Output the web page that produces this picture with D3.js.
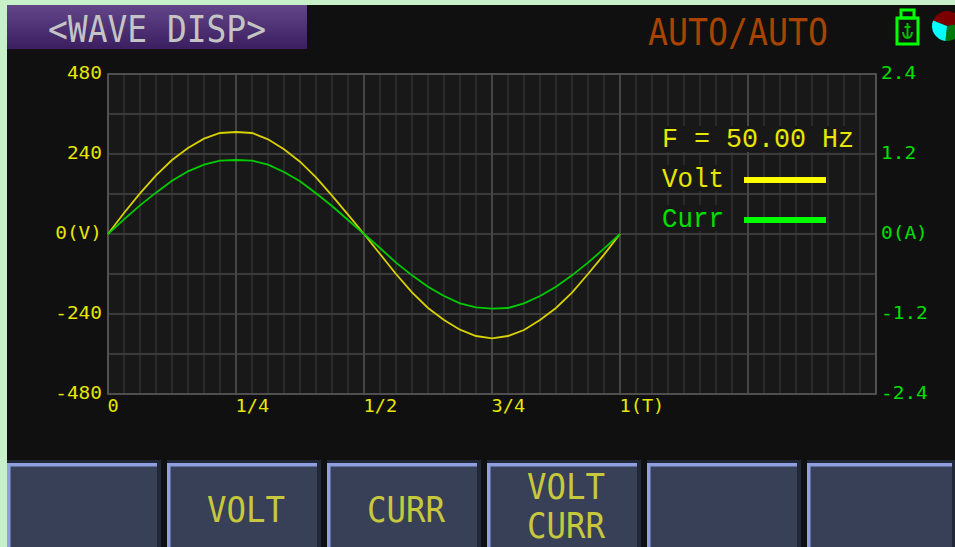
<!DOCTYPE html>
<html>
<head>
<meta charset="utf-8">
<script src="https://cdn.jsdelivr.net/npm/d3@7/dist/d3.min.js"></script>
<style>
html,body{margin:0;padding:0;background:#c8f0c8;overflow:hidden}
svg{display:block}
text{font-family:"DejaVu Sans Mono",monospace}
</style>
</head>
<body>
<svg id="chart" width="955" height="547"></svg>
<script>
// ---- data ----
const titleText = "<WAVE DISP>";
const rangeText = "AUTO/AUTO";
const freqText = "F = 50.00 Hz";
const legendNames = ["Volt", "Curr"];
const buttons = [[], ["VOLT"], ["CURR"], ["VOLT", "CURR"], [], []];
const voltTicks = [480, 240, 0, -240, -480];
const voltTickLabels = ["480", "240", "0(V)", "-240", "-480"];
const currTicks = [2.4, 1.2, 0, -1.2, -2.4];
const currTickLabels = ["2.4", "1.2", "0(A)", "-1.2", "-2.4"];
const timeTicks = [0, 0.25, 0.5, 0.75, 1];
const timeTickLabels = ["0", "1/4", "1/2", "3/4", "1(T)"];
// sample instants, in periods (every 1/32 T)
const timeSamples = [0,0.03125,0.0625,0.09375,0.125,0.15625,0.1875,0.21875,0.25,0.28125,0.3125,0.34375,0.375,0.40625,0.4375,0.46875,0.5,
  0.53125,0.5625,0.59375,0.625,0.65625,0.6875,0.71875,0.75,0.78125,0.8125,0.84375,0.875,0.90625,0.9375,0.96875,1];
const voltValues = [0,63,122,176,222,258,286,303,306,303,284,254,217,170,115,58,0,
  -60,-120,-175,-222,-258,-287,-306,-313,-306,-288,-258,-222,-176,-120,-62,0];
const currValues = [0,0.22,0.43,0.62,0.80,0.94,1.04,1.10,1.11,1.10,1.04,0.93,0.79,0.61,0.42,0.21,0,
  -0.21,-0.43,-0.62,-0.79,-0.93,-1.04,-1.10,-1.12,-1.11,-1.04,-0.93,-0.79,-0.62,-0.43,-0.22,0];

// ---- colours ----
const YEL = "#e6e600", GRN = "#00e000";
const svg = d3.select("#chart");

// screen
svg.append("rect").attr("x",7).attr("y",5).attr("width",948).attr("height",542).attr("fill","#101010");

// title banner
const defs = svg.append("defs");
const grad = defs.append("linearGradient").attr("id","banner").attr("x1",0).attr("y1",0).attr("x2",0).attr("y2",1);
grad.append("stop").attr("offset","0%").attr("stop-color","#624689");
grad.append("stop").attr("offset","100%").attr("stop-color","#3a1e60");
svg.append("rect").attr("x",7).attr("y",5).attr("width",300).attr("height",44).attr("fill","url(#banner)");

function lcd(x, y, str, size, width, color, family){
  const t = svg.append("text").attr("x",x).attr("y",y).attr("font-size",size).attr("fill",color)
    .attr("textLength",width).attr("lengthAdjust","spacingAndGlyphs").text(str);
  if(family) t.style("font-family",family);
  return t;
}
lcd(48,42,titleText,37,218,"#c4c4c4");
lcd(648,45,rangeText,37,180,"#a84400");

// scales
const plot = {l:108, r:876, t:74, b:394};
const x = d3.scaleLinear().domain([0,1.5]).range([plot.l,plot.r]);
const yV = d3.scaleLinear().domain([-480,480]).range([plot.b,plot.t]);
const yA = d3.scaleLinear().domain([-2.4,2.4]).range([plot.b,plot.t]);

// plot area and grid
svg.append("rect").attr("x",plot.l).attr("y",plot.t).attr("width",plot.r-plot.l).attr("height",plot.b-plot.t).attr("fill","#181818");
const grid = svg.append("g");
const minor = d3.range(0,49).map(i=>i/32);
grid.selectAll("line.v").data(minor).join("line").attr("class","v")
  .attr("x1",d=>x(d)).attr("x2",d=>x(d)).attr("y1",plot.t).attr("y2",plot.b)
  .attr("stroke",(d,i)=>i%8===0?"#5a5a5a":"#333").attr("stroke-width",1.4);
grid.selectAll("line.h").data(d3.range(-480,481,120)).join("line").attr("class","h")
  .attr("x1",plot.l).attr("x2",plot.r).attr("y1",d=>yV(d)).attr("y2",d=>yV(d))
  .attr("stroke","#464646").attr("stroke-width",1.6);
svg.append("rect").attr("x",plot.l).attr("y",plot.t).attr("width",plot.r-plot.l).attr("height",plot.b-plot.t)
  .attr("fill","none").attr("stroke","#555").attr("stroke-width",1.6);

// axes
function style(g, color){
  g.select(".domain").remove();
  g.selectAll(".tick line").remove();
  g.selectAll("text").attr("fill",color).attr("font-size",17).attr("font-family",'"DejaVu Sans Mono",monospace');
}
const left = svg.append("g").attr("transform",`translate(${plot.l},-1)`)
  .call(d3.axisLeft(yV).tickValues(voltTicks).tickFormat((d,i)=>voltTickLabels[i]).tickPadding(6).tickSize(0));
style(left,YEL);
left.selectAll("text").attr("textLength",function(){return this.textContent.length*11.7;}).attr("lengthAdjust","spacingAndGlyphs");

const right = svg.append("g").attr("transform",`translate(${plot.r},-1)`)
  .call(d3.axisRight(yA).tickValues(currTicks).tickFormat((d,i)=>currTickLabels[i]).tickPadding(5).tickSize(0));
style(right,GRN);
right.selectAll("text").attr("textLength",function(){return this.textContent.length*11.7;}).attr("lengthAdjust","spacingAndGlyphs");

const bottom = svg.append("g").attr("transform",`translate(-1,${plot.b})`)
  .call(d3.axisBottom(x).tickValues(timeTicks).tickFormat((d,i)=>timeTickLabels[i]).tickPadding(6).tickSize(0));
style(bottom,YEL);
bottom.selectAll("text").attr("text-anchor","start").attr("dy","0.71em")
  .attr("textLength",function(){return this.textContent.length*11.2;}).attr("lengthAdjust","spacingAndGlyphs");

// curves
const voltLine = d3.line().x((d,i)=>x(timeSamples[i])).y(d=>yV(d));
const currLine = d3.line().x((d,i)=>x(timeSamples[i])).y(d=>yA(d));
svg.append("path").attr("d",voltLine(voltValues)).attr("fill","none").attr("stroke","#d8d000").attr("stroke-width",1.8);
svg.append("path").attr("d",currLine(currValues)).attr("fill","none").attr("stroke","#00cc00").attr("stroke-width",1.8);

// legend (text boxes mask the grid)
[[658,126,198,26],[658,165,68,26],[658,205,68,26]].forEach(b=>{
  svg.append("rect").attr("x",b[0]).attr("y",b[1]).attr("width",b[2]).attr("height",b[3]).attr("fill","#181818");
});
const thin = '"Liberation Mono",monospace';
lcd(662,147,freqText,28,192,YEL,thin);
lcd(662,187,legendNames[0],28,62,YEL,thin);
lcd(662,227,legendNames[1],28,62,GRN,thin);
svg.append("line").attr("x1",744).attr("x2",826).attr("y1",180).attr("y2",180).attr("stroke","#ffff00").attr("stroke-width",6);
svg.append("line").attr("x1",744).attr("x2",826).attr("y1",220).attr("y2",220).attr("stroke","#00ff00").attr("stroke-width",6);

// USB icon
const usb = svg.append("g").attr("fill","none").attr("stroke","#00ff00").attr("stroke-width",3);
usb.append("rect").attr("x",897).attr("y",18).attr("width",21).attr("height",26);
usb.append("rect").attr("x",901).attr("y",10).attr("width",13).attr("height",8);
const anchor = svg.append("g").attr("fill","none").attr("stroke","#00c000").attr("stroke-width",2);
anchor.append("path").attr("d","M907.5 23V38M904.5 27H910.5M903 32Q903.5 38 907.5 38Q911.5 38 912 32");

// status disc (cropped by the window edge)
const arc = d3.arc().innerRadius(0).outerRadius(15);
const disc = svg.append("g").attr("transform","translate(947,26)");
[["#7a0000",-68,80],["#007a10",80,186],["#00ffff",186,292]].forEach(s=>{
  disc.append("path").attr("d",arc({startAngle:s[1]*Math.PI/180,endAngle:s[2]*Math.PI/180})).attr("fill",s[0]);
});

// soft keys
const keyX = [7,167,327,487,647,807];
keyX.forEach((kx,i)=>{
  const w = Math.min(153, 955-kx);
  svg.append("rect").attr("x",kx).attr("y",460).attr("width",w+1).attr("height",87).attr("fill","#232838");
  svg.append("rect").attr("x",kx).attr("y",463).attr("width",w-3).attr("height",84).attr("fill","#384058");
  svg.append("rect").attr("x",kx).attr("y",463).attr("width",w-3).attr("height",3.5).attr("fill","#8fa0e0");
  svg.append("rect").attr("x",kx).attr("y",463).attr("width",3.5).attr("height",84).attr("fill","#8fa0e0");
  const lines = buttons[i];
  lines.forEach((s,j)=>{
    const by = lines.length===1 ? 522 : (j===0 ? 499 : 538);
    lcd(kx+40,by,s,36,78,"#c8c83c");
  });
});
</script>
</body>
</html>
